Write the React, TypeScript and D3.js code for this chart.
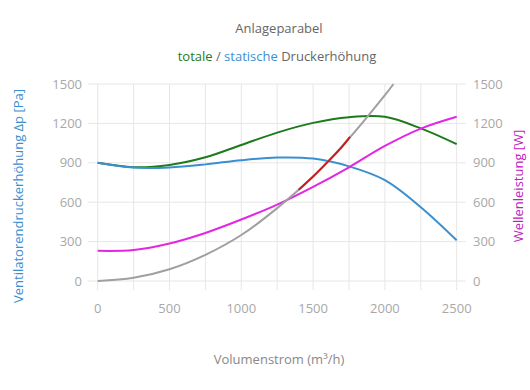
import * as d3 from "d3";

// Volumenstrom (m³/h)
const flow = [0, 250, 500, 750, 1000, 1250, 1500, 1750, 2000, 2250, 2500];
// statische Druckerhöhung [Pa]
const staticPressure = [900, 864, 865, 888, 920, 940, 932, 873, 768, 562, 310];
// totale Druckerhöhung [Pa]
const totalPressure = [900, 867, 884, 942, 1036, 1130, 1204, 1247, 1250, 1162, 1042];
// Wellenleistung [W]
const shaftPower = [230, 236, 286, 366, 468, 582, 717, 866, 1028, 1160, 1250];
// Anlageparabel
const systemFlow = [0, 250, 500, 750, 1000, 1250, 1500, 1750, 2000, 2060];
const systemPressure = [0, 24, 89, 199, 350, 555, 795, 1085, 1415, 1500];
// Betriebsbereich (rot)
const operatingFlow = [1400, 1500, 1600, 1700, 1757];
const operatingPressure = [695, 795, 905, 1020, 1097];

const xTicks = [0, 500, 1000, 1500, 2000, 2500];
const xGrid = d3.range(0, 2501, 250);
const yTicks = [0, 300, 600, 900, 1200, 1500];

const width = 530;
const height = 390;
const font = "'Open Sans', 'Noto Sans', sans-serif";

export default function App() {
  const x = d3.scaleLinear().domain([0, 2500]).range([97.7, 456.7]);
  const y = d3.scaleLinear().domain([0, 1500]).range([281, 84]);

  const line = (xs: number[], ys: number[]) =>
    d3
      .line<number>()
      .x((d, i) => x(xs[i]))
      .y((d) => y(d))
      .curve(d3.curveCatmullRom.alpha(0.5))(ys) as string;

  const curves = [
    { d: line(flow, totalPressure), color: "#1d7a1d" },
    { d: line(flow, staticPressure), color: "#3a8fd0" },
    { d: line(flow, shaftPower), color: "#e326e3" },
    { d: line(systemFlow, systemPressure), color: "#a0a0a0" },
    { d: line(operatingFlow, operatingPressure), color: "#cc1a1a" },
  ];

  const [x0, x1] = x.range();
  const [y0, y1] = y.range();

  return (
    <svg
      width={width}
      height={height}
      style={{ position: "absolute", left: 0, top: 0, background: "#fff" }}
      fontFamily={font}
    >
      <text x={279} y={33} textAnchor="middle" fontSize={13} fill="#666">
        Anlageparabel
      </text>
      <text x={277} y={61} textAnchor="middle" fontSize={13} fill="#666">
        <tspan fill="#1d7a1d">totale</tspan>
        <tspan> / </tspan>
        <tspan fill="#3a8fd0">statische</tspan>
        <tspan> Druckerhöhung</tspan>
      </text>

      {/* grid */}
      <g stroke="#e6e6e6" strokeWidth={1}>
        {yTicks.map((t) => (
          <line key={"h" + t} x1={x0 - 10} x2={x1 + 9} y1={y(t)} y2={y(t)} />
        ))}
        {xGrid.map((t) => (
          <line key={"v" + t} x1={x(t)} x2={x(t)} y1={y1} y2={y0 + 9} />
        ))}
      </g>

      {/* tick labels */}
      <g fontSize={13} fill="#a8a8a8">
        {yTicks.map((t) => (
          <text key={"l" + t} x={82} y={y(t) + 4.5} textAnchor="end">
            {t}
          </text>
        ))}
        {yTicks.map((t) => (
          <text key={"r" + t} x={473} y={y(t) + 4.5}>
            {t}
          </text>
        ))}
        {xTicks.map((t) => (
          <text key={"x" + t} x={x(t)} y={313} textAnchor="middle">
            {t}
          </text>
        ))}
      </g>

      {/* curves */}
      {curves.map((c, i) => (
        <path key={i} d={c.d} fill="none" stroke={c.color} strokeWidth={2} />
      ))}

      {/* axis titles */}
      <text
        transform="translate(23,196) rotate(-90)"
        textAnchor="middle"
        fontSize={13}
        fill="#3a8fd0"
      >
        Ventilatorendruckerhöhung Δp [Pa]
      </text>
      <text
        transform="translate(523,186) rotate(-90)"
        textAnchor="middle"
        fontSize={13}
        fill="#c020c0"
      >
        Wellenleistung [W]
      </text>
      <text x={279} y={364} textAnchor="middle" fontSize={13} fill="#888">
        Volumenstrom (m³/h)
      </text>
    </svg>
  );
}
